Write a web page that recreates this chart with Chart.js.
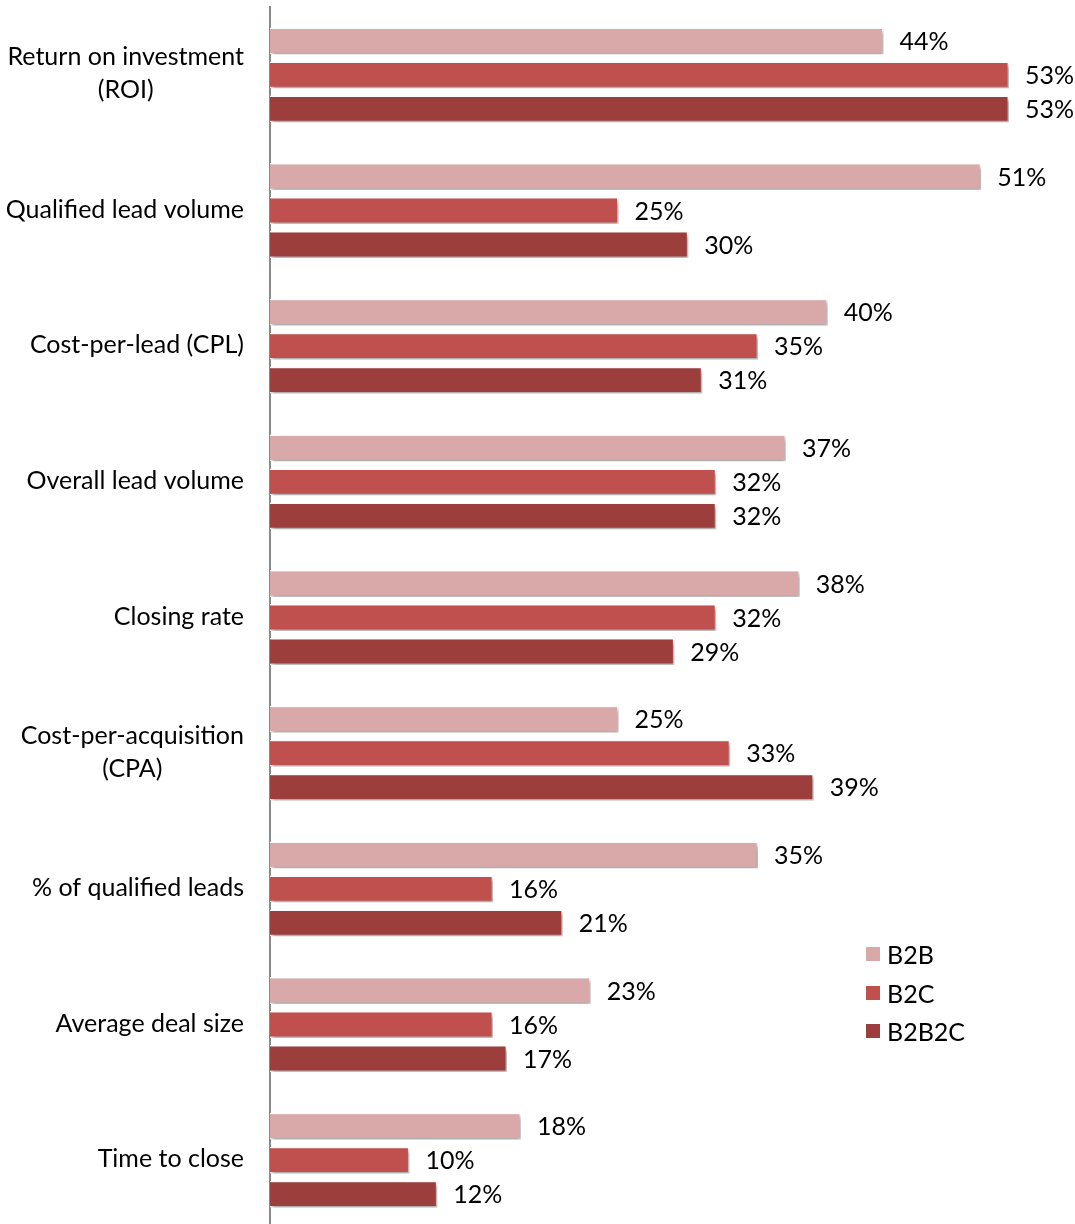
<!DOCTYPE html>
<html>
<head>
<meta charset="utf-8">
<script src="https://cdn.jsdelivr.net/npm/chart.js@4/dist/chart.umd.min.js"></script>
<style>
    html, body { margin: 0; padding: 0; background: #fff; overflow: hidden; }
    #wrap { position: relative; width: 1075px; height: 1228px; }
    #legend { position: absolute; left: 866px; top: 935px; font: 25px Lato, sans-serif; color: #000; }
    #legend .item { display: flex; align-items: center; height: 38.5px; }
    #legend .box { width: 14px; height: 14px; margin-right: 7px; }
</style>
</head>
<body>
<div id="wrap">
    <canvas id="chart" width="1075" height="1228"></canvas>
    <div id="legend"></div>
</div>
<script>
const categories = [
    ['Return on investment', '(ROI)'],
    'Qualified lead volume',
    'Cost-per-lead (CPL)',
    'Overall lead volume',
    'Closing rate',
    ['Cost-per-acquisition', '(CPA)'],
    '% of qualified leads',
    'Average deal size',
    'Time to close'
];
const seriesNames = ['B2B', 'B2C', 'B2B2C'];
const b2bValues = [44, 51, 40, 37, 38, 25, 35, 23, 18];
const b2cValues = [53, 25, 35, 32, 32, 33, 16, 16, 10];
const b2b2cValues = [53, 30, 31, 32, 29, 39, 21, 17, 12];
const colors = ['#D9A8A8', '#C0504D', '#9C3F3C'];

const FONT = 'Lato, sans-serif';
const FONT_SIZE = 25;

// shadow under the bars
const shadowPlugin = {
    id: 'barShadow',
    beforeDatasetsDraw(chart) {
        const ctx = chart.ctx;
        ctx.save();
        ctx.shadowColor = 'rgba(0,0,0,0.35)';
        ctx.shadowBlur = 4;
        ctx.shadowOffsetX = 2;
        ctx.shadowOffsetY = 3;
    },
    afterDatasetsDraw(chart) {
        chart.ctx.restore();
    }
};

// value labels at the end of each bar
const valueLabels = {
    id: 'valueLabels',
    afterDatasetsDraw(chart) {
        const ctx = chart.ctx;
        ctx.save();
        ctx.font = `${FONT_SIZE}px ${FONT}`;
        ctx.fillStyle = '#000';
        ctx.textAlign = 'left';
        ctx.textBaseline = 'middle';
        chart.data.datasets.forEach((ds, i) => {
            chart.getDatasetMeta(i).data.forEach((bar, j) => {
                ctx.fillText(ds.data[j] + '%', bar.x + 16, bar.y + 1);
            });
        });
        ctx.restore();
    }
};

// category labels: block right aligned, lines centred in the block
const categoryLabels = {
    id: 'categoryLabels',
    afterDraw(chart) {
        const ctx = chart.ctx;
        const y = chart.scales.y;
        const right = 244;
        const lineH = 33;
        ctx.save();
        ctx.font = `${FONT_SIZE}px ${FONT}`;
        ctx.fillStyle = '#000';
        ctx.textAlign = 'center';
        ctx.textBaseline = 'middle';
        categories.forEach((label, i) => {
            const lines = Array.isArray(label) ? label : [label];
            const w = Math.max(...lines.map(l => ctx.measureText(l).width));
            const cx = right - w / 2;
            const cy = y.getPixelForValue(i) - (lines.length - 1) * lineH / 2 - 1;
            lines.forEach((l, k) => ctx.fillText(l, cx, cy + k * lineH));
        });
        ctx.restore();
    }
};

const values = [b2bValues, b2cValues, b2b2cValues];

new Chart(document.getElementById('chart'), {
    type: 'bar',
    data: {
        labels: categories,
        datasets: seriesNames.map((name, i) => ({
            label: name,
            data: values[i],
            backgroundColor: colors[i],
            borderColor: '#ffffff',
            borderWidth: 1.5,
            categoryPercentage: 0.752,
            barPercentage: 0.79
        }))
    },
    options: {
        indexAxis: 'y',
        responsive: false,
        animation: false,
        layout: { padding: { top: 7, right: 13, bottom: 0, left: 0 } },
        scales: {
            x: {
                display: false,
                min: 0,
                max: 56.8
            },
            y: {
                grid: { display: false },
                border: { display: true, color: '#898989', width: 2 },
                ticks: { display: false },
                afterFit(scale) { scale.width = 270; }
            }
        },
        plugins: {
            legend: { display: false },
            tooltip: { enabled: false }
        }
    },
    plugins: [shadowPlugin, valueLabels, categoryLabels]
});

// legend
const legend = document.getElementById('legend');
seriesNames.forEach((name, i) => {
    const item = document.createElement('div');
    item.className = 'item';
    item.innerHTML = `<span class="box" style="background:${colors[i]}"></span><span>${name}</span>`;
    legend.appendChild(item);
});
</script>
</body>
</html>
